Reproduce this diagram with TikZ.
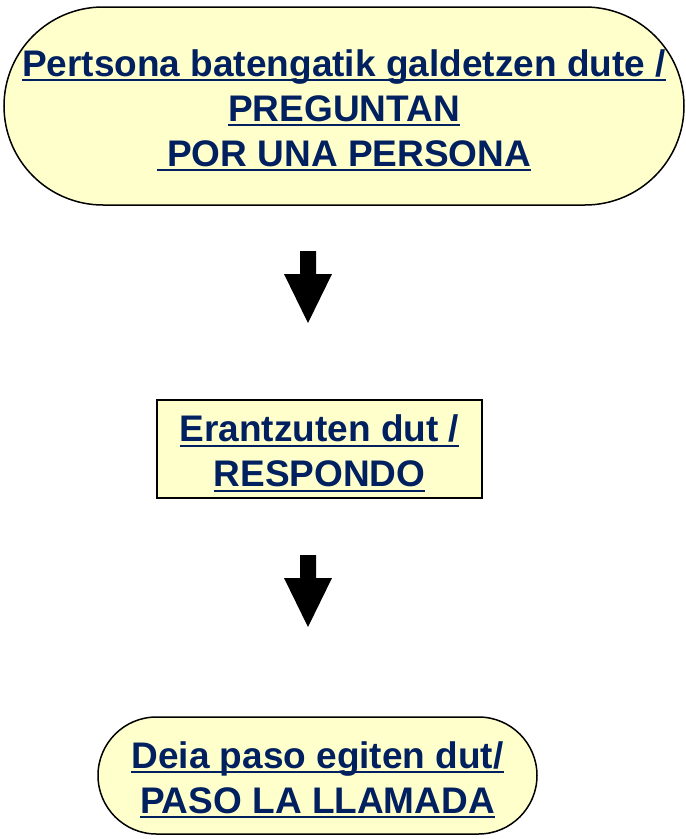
\documentclass[tikz,border=0pt]{standalone}
\usepackage{fontspec}
\setmainfont{Liberation Sans}
\definecolor{txtblue}{RGB}{0,32,96}
\definecolor{boxyellow}{RGB}{255,255,204}
\newsavebox\ulbox
\newcommand\myul[1]{\sbox\ulbox{#1}\rlap{\rule[-5pt]{\wd\ulbox}{2pt}}\usebox\ulbox}
\newcommand\topstrut{\rule{0pt}{38pt}}
\newcommand\botstrut{\rule[-8pt]{0pt}{8pt}}
\tikzset{
  lbl/.style={font=\fontsize{37}{45}\selectfont\bfseries, text=txtblue, align=center,
    draw=black, line width=1.5pt, fill=boxyellow, inner sep=0pt},
  pill/.style={lbl, rectangle, rounded corners=#1},
  plainbox/.style={lbl, rectangle},
  blockarrow/.pic={\fill[black] (-8,0) -- (8,0) -- (8,23) -- (24,23) -- (0,72) -- (-24,23) -- (-8,23) -- cycle;}
}
\begin{document}
\begin{tikzpicture}[x=1pt,y=-1pt]
\useasboundingbox (0,0) rectangle (686,839);
\node[pill=99pt, minimum width=680pt, minimum height=198pt] (top) at (344,106)
  {\topstrut\myul{Pertsona batengatik galdetzen dute /}\\
   \myul{PREGUNTAN}\\
   \myul{\ POR UNA PERSONA}\botstrut};
\node[plainbox, minimum width=325pt, minimum height=98pt] (mid) at (319.5,449)
  {\topstrut\myul{Erantzuten dut /}\\
   \myul{RESPONDO}\botstrut};
\node[pill=58.5pt, minimum width=439pt, minimum height=117pt] (bot) at (317.5,775.5)
  {\topstrut\myul{Deia paso egiten dut/}\\
   \myul{PASO LA LLAMADA}\botstrut};
\coordinate (arr1) at (308,251);
\coordinate (arr2) at (308,555);
\pic at (arr1) {blockarrow};
\pic at (arr2) {blockarrow};
\end{tikzpicture}
\end{document}
